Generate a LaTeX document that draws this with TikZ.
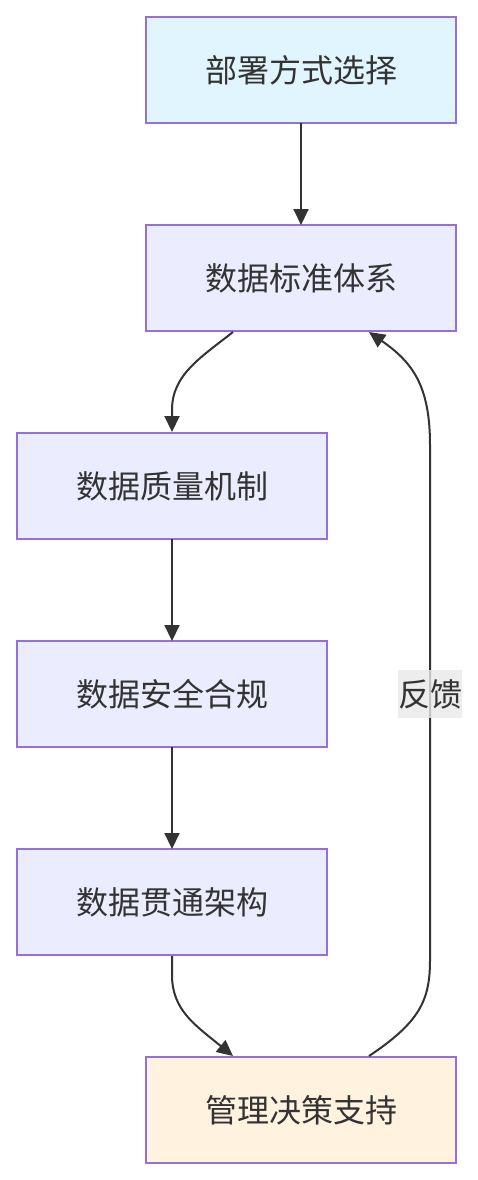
\documentclass[tikz,border=0pt]{standalone}
\usepackage{fontspec}
\setmainfont{Noto Sans CJK SC}
\usetikzlibrary{arrows.meta}
\definecolor{txt}{HTML}{333333}
\definecolor{bord}{HTML}{9370DB}
\definecolor{fblue}{HTML}{E1F5FE}
\definecolor{fmid}{HTML}{ECECFF}
\definecolor{forange}{HTML}{FFF3E0}
\definecolor{lblbg}{HTML}{E8E8E8}
\tikzset{
  box/.style={draw=bord, line width=2pt, minimum width=310pt, minimum height=106pt, inner sep=0pt, outer sep=0pt, text=txt, font=\fontsize{32}{38}\selectfont, anchor=north west},
  edge/.style={draw=txt, line width=2pt, -{Triangle[length=16pt,width=15pt]}},
  lbl/.style={fill=lblbg, fill opacity=0.8, text opacity=1, text=txt, inner sep=0pt, minimum width=64pt, minimum height=48pt, font=\fontsize{32}{38}\selectfont}
}
\begin{document}
\begin{tikzpicture}[x=1pt,y=-1pt]
\useasboundingbox (0,0) rectangle (478,1180);
\node[box, fill=fblue] (a) at (146,17) {部署方式选择};
\node[box, fill=fmid] (b) at (146,225) {数据标准体系};
\node[box, fill=fmid] (c) at (17,433) {数据质量机制};
\node[box, fill=fmid] (d) at (17,641) {数据安全合规};
\node[box, fill=fmid] (e) at (17,849) {数据贯通架构};
\node[box, fill=forange] (f) at (146,1057) {管理决策支持};
\coordinate (b1) at (233,332);
\coordinate (c1) at (172,432);
\coordinate (e1) at (172,956);
\coordinate (f1) at (233,1056);
\coordinate (f2) at (369,1056);
\coordinate (b2) at (369,332);
\draw[edge] (a.south) -- (b.north);
\draw[edge] (b1) .. controls (200,358) and (172,375) .. (172,410) -- (c1);
\draw[edge] (c.south) -- (d.north);
\draw[edge] (d.south) -- (e.north);
\draw[edge] (e1) -- (172,975) .. controls (172,1010) and (195,1025) .. (f1);
\draw[edge] (f2) .. controls (420,1022) and (430,1000) .. (430,960) -- (430,445) .. controls (430,385) and (412,362) .. (b2);
\node[lbl] (l) at (430,694) {反馈};
\end{tikzpicture}
\end{document}
